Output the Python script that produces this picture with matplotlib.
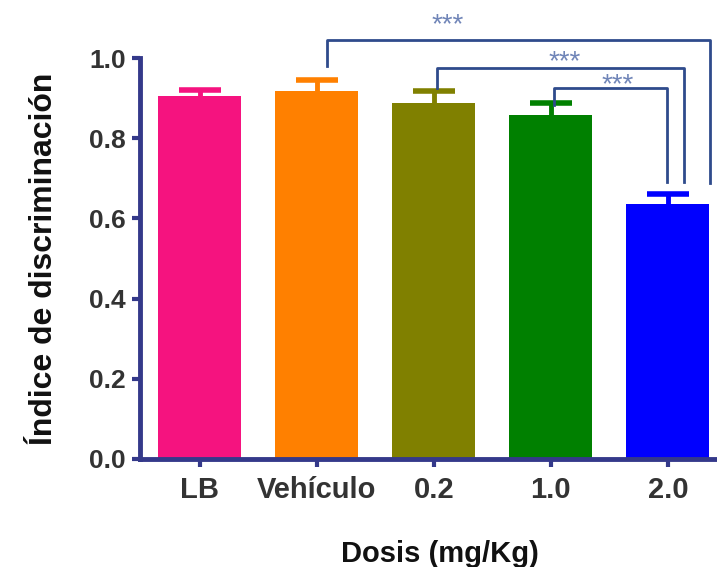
import matplotlib
matplotlib.use("Agg")
import matplotlib.pyplot as plt
import numpy as np

categories = ["LB", "Vehículo", "0.2", "1.0", "2.0"]
means = [0.905, 0.918, 0.887, 0.857, 0.635]
errors = [0.015, 0.028, 0.030, 0.030, 0.025]
colors = ["#f5137f", "#ff8000", "#808000", "#008000", "#0000ff"]
y_ticks = [0.0, 0.2, 0.4, 0.6, 0.8, 1.0]
# brackets: (left category, right category, significance)
comparisons = [("Vehículo", "2.0", "***"), ("0.2", "2.0", "***"), ("1.0", "2.0", "***")]

plt.rcParams['font.family'] = ['Liberation Sans', 'DejaVu Sans']
navy = "#34398a"
txtc = "#333333"

fig = plt.figure(figsize=(7.17, 5.67), dpi=100)
ax = fig.add_axes([0.195, 0.1905, 0.805, 0.7072])
x = np.arange(len(categories))
w = 0.71
ax.bar(x, means, width=w, color=colors, zorder=2)
for xi, m, e, c in zip(x, means, errors, colors):
    eb = ax.errorbar(xi, m, yerr=[[0], [e]], fmt='none', ecolor=c, elinewidth=3.5,
                     capsize=15, capthick=4, zorder=3)
    eb[1][0].set_visible(False)

ax.set_xlim(-0.513, 4.42)
ax.set_ylim(0, 1.0)
ax.set_yticks(y_ticks)
ax.set_yticklabels([f"{t:.1f}" for t in y_ticks])
ax.set_xticks(x)
ax.set_xticklabels(categories)
for s in ["top", "right"]:
    ax.spines[s].set_visible(False)
for s in ["left", "bottom"]:
    ax.spines[s].set_color(navy)
    ax.spines[s].set_linewidth(3.5)
ax.tick_params(axis='both', colors=navy, width=3, length=6, labelcolor=txtc)
ax.tick_params(axis='y', labelsize=19, pad=4)
ax.tick_params(axis='x', labelsize=21, pad=6)
for lab in ax.get_xticklabels() + ax.get_yticklabels():
    lab.set_fontweight('bold')
ax.set_xlabel("Dosis (mg/Kg)", fontsize=21, fontweight='bold', color="#111111")
ax.xaxis.set_label_coords(0.52, -0.236)
ax.xaxis.label.set_va('center')
ax.set_ylabel("Índice de discriminación", fontsize=23, fontweight='bold',
              color="#111111")
ax.yaxis.set_label_coords(-0.166, 0.5)
ax.yaxis.label.set_va('center')

# significance brackets
br_col = "#2f4b8c"
st_col = "#7085b8"
idx = {c: i for i, c in enumerate(categories)}
bracket_specs = [
    # (left x offset, right x offset, bracket y, left leg bottom, right leg bottom, star x, star y)
    (0.085, 0.36, 1.045, 0.980, 0.688, 2.12, 1.09),
    (0.03, 0.14, 0.975, 0.925, 0.690, 3.12, 0.9975),
    (0.03, -0.01, 0.925, 0.882, 0.690, 3.57, 0.94),
]
for (a, b, sig), (lo, ro, yb, lb, rb, sx, sy) in zip(comparisons, bracket_specs):
    xl = idx[a] + lo
    xr = idx[b] + ro
    ax.plot([xl, xl, xr, xr], [lb, yb, yb, rb], color=br_col, lw=2,
            clip_on=False, zorder=4)
    ax.text(sx, sy - 0.009, sig, ha='center', va='center', color=st_col,
            fontsize=20, clip_on=False)

fig.savefig("out.png", dpi=100)
